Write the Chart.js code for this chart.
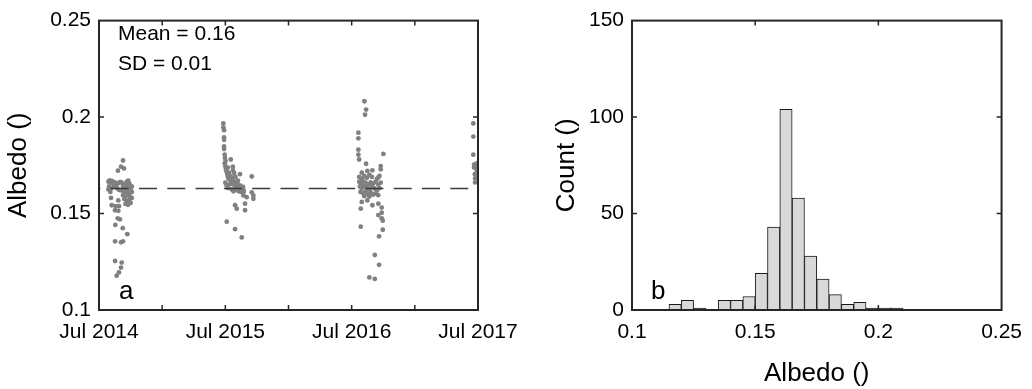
<!DOCTYPE html>
<html>
<head>
<meta charset="utf-8">
<script src="https://cdn.jsdelivr.net/npm/chart.js@4.4.1/dist/chart.umd.min.js"></script>
<style>
  html, body { margin: 0; padding: 0; background: #fff; }
  #wrap { position: relative; width: 1032px; height: 389px; overflow: hidden; }
  #albedo-chart { position: absolute; left: 0; top: 0; }
  #hist-chart { position: absolute; left: 520px; top: 0; }
</style>
</head>
<body>
<div id="wrap">
  <canvas id="albedo-chart" width="540" height="389"></canvas>
  <canvas id="hist-chart" width="512" height="389"></canvas>
</div>
<script>
// panel a: albedo per acquisition, x in decimal years (Jul 2014 = 2014.5)
const season2014 = [
    [2014.690,0.1775],[2014.674,0.1743],[2014.698,0.1734],[2014.650,0.1722],[2014.732,0.1670],
    [2014.575,0.1665],[2014.585,0.1672],[2014.595,0.1660],[2014.605,0.1668],[2014.615,0.1655],[2014.625,0.1662],
    [2014.640,0.1650],[2014.655,0.1658],[2014.668,0.1664],[2014.580,0.1640],[2014.600,0.1632],[2014.620,0.1640],
    [2014.645,0.1630],[2014.660,0.1622],[2014.575,0.1625],[2014.590,0.1612],
    [2014.680,0.1660],[2014.700,0.1652],[2014.720,0.1665],[2014.740,0.1655],[2014.690,0.1640],[2014.710,0.1632],
    [2014.730,0.1645],[2014.750,0.1628],[2014.760,0.1640],[2014.680,0.1620],[2014.700,0.1610],[2014.720,0.1618],
    [2014.740,0.1605],[2014.760,0.1612],[2014.690,0.1595],[2014.710,0.1588],[2014.730,0.1598],[2014.750,0.1585],
    [2014.700,0.1575],[2014.720,0.1565],[2014.740,0.1572],[2014.760,0.1580],[2014.710,0.1550],[2014.730,0.1545],
    [2014.750,0.1555],
    [2014.595,0.1581],[2014.653,0.1568],[2014.601,0.1543],[2014.632,0.1538],[2014.658,0.1538],[2014.627,0.1517],
    [2014.653,0.1514],[2014.648,0.1475],[2014.666,0.1470],[2014.629,0.1441],[2014.688,0.1424],[2014.724,0.1393],
    [2014.627,0.1356],[2014.674,0.1351],[2014.690,0.1356],[2014.627,0.1254],[2014.680,0.1246],[2014.674,0.1220],
    [2014.658,0.1195],[2014.640,0.1178]
];
const season2015 = [
    [2015.484,0.1967],[2015.484,0.1946],[2015.490,0.1932],[2015.490,0.1895],[2015.490,0.1882],[2015.490,0.1848],
    [2015.490,0.1834],[2015.495,0.1805],[2015.497,0.1788],[2015.502,0.1772],[2015.543,0.1780],[2015.559,0.1743],
    [2015.616,0.1704],[2015.709,0.1692],
    [2015.495,0.1760],[2015.500,0.1745],[2015.505,0.1730],[2015.510,0.1718],[2015.520,0.1738],[2015.515,0.1705],
    [2015.520,0.1692],[2015.530,0.1710],[2015.525,0.1680],[2015.535,0.1695],[2015.540,0.1672],[2015.550,0.1688],
    [2015.545,0.1660],[2015.555,0.1675],[2015.560,0.1652],[2015.570,0.1665],[2015.575,0.1645],[2015.585,0.1658],
    [2015.590,0.1640],[2015.600,0.1650],[2015.610,0.1635],[2015.620,0.1645],[2015.630,0.1628],[2015.640,0.1638],
    [2015.500,0.1660],[2015.510,0.1645],[2015.520,0.1632],[2015.530,0.1650],[2015.550,0.1625],[2015.565,0.1615],
    [2015.580,0.1625],[2015.600,0.1618],[2015.620,0.1612],[2015.645,0.1620],[2015.600,0.1670],[2015.580,0.1690],
    [2015.570,0.1710],[2015.560,0.1725],
    [2015.643,0.1610],[2015.643,0.1594],[2015.669,0.1585],[2015.709,0.1610],[2015.722,0.1594],[2015.722,0.1576],
    [2015.577,0.1543],[2015.590,0.1525],[2015.656,0.1551],[2015.656,0.1517],[2015.511,0.1458],[2015.577,0.1419],
    [2015.630,0.1376]
];
const season2016 = [
    [2016.601,0.2082],[2016.614,0.2039],[2016.606,0.2012],[2016.553,0.1919],[2016.553,0.1890],[2016.553,0.1831],
    [2016.553,0.1805],[2016.559,0.1780],[2016.751,0.1809],[2016.614,0.1758],[2016.730,0.1746],[2016.730,0.1729],
    [2016.580,0.1712],[2016.624,0.1721],[2016.664,0.1724],[2016.711,0.1687],
    [2016.560,0.1690],[2016.580,0.1680],[2016.600,0.1695],[2016.620,0.1685],[2016.640,0.1700],[2016.660,0.1690],
    [2016.700,0.1680],[2016.720,0.1695],[2016.560,0.1665],[2016.575,0.1655],[2016.590,0.1668],[2016.610,0.1660],
    [2016.630,0.1650],[2016.650,0.1662],[2016.670,0.1655],[2016.690,0.1665],[2016.710,0.1650],[2016.730,0.1660],
    [2016.565,0.1640],[2016.580,0.1630],[2016.600,0.1642],[2016.620,0.1635],[2016.640,0.1625],[2016.660,0.1640],
    [2016.680,0.1630],[2016.700,0.1620],[2016.720,0.1632],[2016.570,0.1612],[2016.590,0.1605],[2016.610,0.1615],
    [2016.630,0.1600],[2016.650,0.1610],[2016.670,0.1598],[2016.690,0.1605],[2016.710,0.1595],[2016.600,0.1590],
    [2016.640,0.1588],
    [2016.580,0.1560],[2016.572,0.1525],[2016.624,0.1568],[2016.664,0.1543],[2016.711,0.1551],[2016.738,0.1531],
    [2016.711,0.1492],[2016.738,0.1504],[2016.738,0.1475],[2016.746,0.1463],[2016.572,0.1432],[2016.746,0.1416],
    [2016.717,0.1382],[2016.683,0.1285],[2016.717,0.1234],[2016.640,0.1169],[2016.683,0.1161]
];
const season2017 = [
    [2017.463,0.1967],[2017.463,0.1899],[2017.463,0.1805],[2017.469,0.1754],[2017.469,0.1738],[2017.475,0.1704],
    [2017.477,0.1682],[2017.477,0.1661],[2017.490,0.1760],[2017.490,0.1720],[2017.495,0.1690],[2017.485,0.1740]
];
const meanAlbedo = 0.163;
const dateRange = [2014.5, 2017.5];

// panel b: histogram of albedo, 0.005 wide bins
const binCenters = [0.1175,0.1225,0.1275,0.1325,0.1375,0.1425,0.1475,0.1525,0.1575,0.1625,
                    0.1675,0.1725,0.1775,0.1825,0.1875,0.1925,0.1975,0.2025,0.2075];
const binCounts = [3,5,1,0,5,5,7,19,43,104,58,28,16,8,3,4,1,1,1];

Chart.defaults.font.family = '"Liberation Sans", Arial, sans-serif';
Chart.defaults.color = '#000';

const axisColor = '#262626';
const tickFont = { size: 21 };
const titleFont = { size: 26 };

// draws the MATLAB style box, inward ticks on all four sides and panel notes
const framePlugin = {
    id: 'frame',
    afterDraw(chart, args, opts) {
        const { ctx, chartArea: a, scales } = chart;
        ctx.save();
        ctx.strokeStyle = axisColor;
        ctx.lineWidth = 1.5;
        ctx.beginPath();
        scales.x.ticks.forEach(t => {
            const px = scales.x.getPixelForValue(t.value);
            if (px <= a.left + 1 || px >= a.right - 1) return;
            ctx.moveTo(px, a.bottom); ctx.lineTo(px, a.bottom - 5);
            ctx.moveTo(px, a.top); ctx.lineTo(px, a.top + 5);
        });
        scales.y.ticks.forEach(t => {
            const py = scales.y.getPixelForValue(t.value);
            if (py <= a.top + 1 || py >= a.bottom - 1) return;
            ctx.moveTo(a.left, py); ctx.lineTo(a.left + 5, py);
            ctx.moveTo(a.right, py); ctx.lineTo(a.right - 5, py);
        });
        ctx.stroke();
        ctx.lineWidth = 2;
        ctx.strokeRect(a.left, a.top, a.right - a.left, a.bottom - a.top);

        ctx.fillStyle = '#000';
        ctx.textBaseline = 'middle';
        ctx.textAlign = 'left';
        (opts.notes || []).forEach(n => {
            ctx.font = n.size + 'px ' + Chart.defaults.font.family;
            ctx.fillText(n.text, n.x, n.y);
        });
        ctx.restore();
    }
};

const twoDecimals = v => String(Number(v.toFixed(2)));

function pointSet(rows) {
    return {
        type: 'scatter',
        data: rows.map(r => ({ x: r[0], y: r[1] })),
        backgroundColor: '#808080',
        borderWidth: 0,
        pointRadius: 2.4,
        pointHoverRadius: 2.4,
        clip: 0,
        order: 1
    };
}

new Chart(document.getElementById('albedo-chart'), {
    type: 'scatter',
    data: {
        datasets: [
            {
                type: 'line',
                data: dateRange.map(d => ({ x: d, y: meanAlbedo })),
                borderColor: '#3a3a3a',
                borderWidth: 1.5,
                borderDash: [18, 10.3],
                borderDashOffset: 16.6,
                pointRadius: 0,
                order: 0
            },
            pointSet(season2014),
            pointSet(season2015),
            pointSet(season2016),
            pointSet(season2017)
        ]
    },
    options: {
        responsive: false,
        animation: false,
        layout: { padding: { left: 0, right: 62, top: 16, bottom: 0 } },
        plugins: {
            legend: { display: false },
            tooltip: { enabled: false },
            frame: {
                notes: [
                    { text: 'Mean = 0.16', x: 118, y: 34, size: 21 },
                    { text: 'SD = 0.01', x: 118, y: 64, size: 21 },
                    { text: 'a', x: 119, y: 292, size: 26 }
                ]
            }
        },
        scales: {
            x: {
                type: 'linear',
                min: dateRange[0],
                max: dateRange[1],
                grid: { display: false, drawTicks: false },
                border: { display: false },
                ticks: {
                    stepSize: 0.5,
                    autoSkip: false,
                    maxRotation: 0,
                    padding: 10,
                    font: tickFont,
                    callback: v => (v % 1 === 0.5 ? 'Jul ' + Math.floor(v) : '')
                },
                afterFit: s => { s.height = 79; }
            },
            y: {
                min: 0.1,
                max: 0.25,
                grid: { display: false, drawTicks: false },
                border: { display: false },
                ticks: { stepSize: 0.05, padding: 8, font: tickFont, callback: twoDecimals },
                title: { display: true, text: 'Albedo ()', font: titleFont, padding: { top: 3, bottom: 0 } },
                afterFit: s => { s.width = 99; }
            }
        }
    },
    plugins: [framePlugin]
});

new Chart(document.getElementById('hist-chart'), {
    type: 'bar',
    data: {
        datasets: [{
            data: binCenters.map((c, i) => ({ x: c, y: binCounts[i] })),
            backgroundColor: '#d9d9d9',
            borderColor: '#1a1a1a',
            borderWidth: 1,
            barPercentage: 1,
            categoryPercentage: 1
        }]
    },
    options: {
        responsive: false,
        animation: false,
        layout: { padding: { left: 0, right: 25, top: 16, bottom: 0 } },
        plugins: {
            legend: { display: false },
            tooltip: { enabled: false },
            frame: {
                notes: [
                    { text: 'b', x: 131, y: 292, size: 26 }
                ]
            }
        },
        scales: {
            x: {
                type: 'linear',
                min: 0.1,
                max: 0.25,
                offset: false,
                grid: { display: false, drawTicks: false },
                border: { display: false },
                ticks: { stepSize: 0.05, autoSkip: false, maxRotation: 0, padding: 10, font: tickFont, callback: twoDecimals },
                title: { display: true, text: 'Albedo ()', font: titleFont, padding: { top: 0, bottom: 0 } },
                afterFit: s => { s.height = 79; }
            },
            y: {
                min: 0,
                max: 150,
                grid: { display: false, drawTicks: false },
                border: { display: false },
                ticks: { stepSize: 50, padding: 8, font: tickFont },
                title: { display: true, text: 'Count ()', font: titleFont, padding: { top: 31, bottom: 0 } },
                afterFit: s => { s.width = 112; }
            }
        }
    },
    plugins: [framePlugin]
});
</script>
</body>
</html>
